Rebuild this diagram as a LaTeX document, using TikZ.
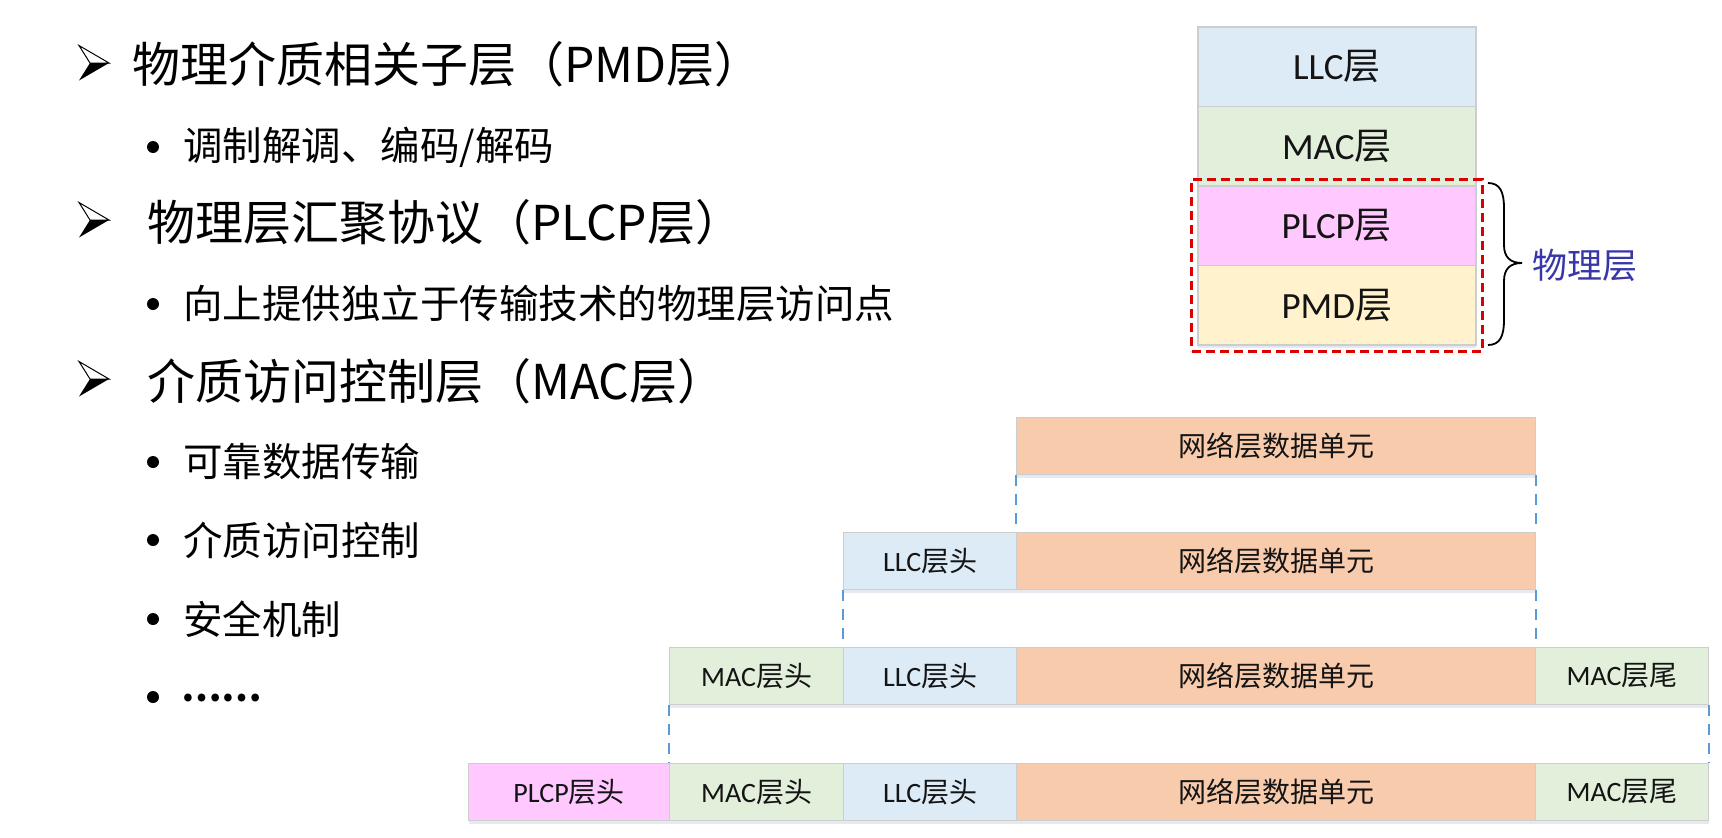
\documentclass[tikz,border=0pt]{standalone}
\usepackage{fontspec}
\setmainfont{Noto Sans CJK SC}
\newfontfamily\carl{Carlito}
\usetikzlibrary{shadows,fit}
\definecolor{llcc}{RGB}{221,235,247}
\definecolor{macc}{RGB}{226,239,218}
\definecolor{plcpc}{RGB}{255,200,255}
\definecolor{pmdc}{RGB}{255,242,204}
\definecolor{netc}{RGB}{248,203,173}
\definecolor{bgray}{RGB}{205,205,205}
\definecolor{redd}{RGB}{222,0,0}
\definecolor{bdashc}{RGB}{91,155,213}
\definecolor{phyblue}{RGB}{55,55,170}
\definecolor{shadowc}{RGB}{150,170,200}
\definecolor{txt}{RGB}{20,20,20}
\newcommand\fsz[1]{\fontsize{#1pt}{#1pt}\selectfont}
\newcommand\la[1]{{\carl #1}}
\begin{document}
\begin{tikzpicture}[x=1pt,y=-1pt,
  sh/.style={drop shadow={shadow xshift=0pt, shadow yshift=-3pt, opacity=0.25, fill=shadowc}},
  stk/.style={draw=bgray, line width=1.5pt, minimum width=278pt, minimum height=79.5pt,
    inner sep=0pt, anchor=north west, font=\fsz{37}, text=txt, sh},
  frm/.style={draw=bgray, line width=1.2pt, minimum height=57pt, inner sep=0pt,
    anchor=north west, font=\fsz{28}, text=txt, sh},
  head/.style={anchor=west, inner sep=0pt, font=\fsz{48}},
  sub/.style={anchor=west, inner sep=0pt, font=\fsz{39.5}},
  bdash/.style={draw=bdashc, line width=2pt, dash pattern=on 11pt off 8pt},
  harrow/.pic={
    \fill[black] (-4,0) -- (15,0) -- (-15,17.5) -- cycle;
    \draw[black, line width=1pt, line join=miter] (-4,0) -- (-15,-17.5) -- (15,0) -- cycle;
  },
  dotb/.pic={\fill[black] (0,0) circle (6pt);}
]
\useasboundingbox (0,0) rectangle (1722,838);

% ---- left text ----
\pic at (94,63) {harrow};
\node[head] (h1) at (132,64) {物理介质相关子层（PMD层）};
\pic at (153,147) {dotb};
\node[sub] (s1) at (183,147) {调制解调、编码/解码};
\pic at (94,220) {harrow};
\node[head] (h2) at (147,222) {物理层汇聚协议（PLCP层）};
\pic at (153,304) {dotb};
\node[sub] (s2) at (183,304) {向上提供独立于传输技术的物理层访问点};
\pic at (94,379) {harrow};
\node[head] (h3) at (147,381) {介质访问控制层（MAC层）};
\pic at (153,462) {dotb};
\node[sub] (s3) at (183,461) {可靠数据传输};
\pic at (153,540) {dotb};
\node[sub] (s4) at (183,540) {介质访问控制};
\pic at (153,619) {dotb};
\node[sub] (s5) at (183,619) {安全机制};
\pic at (153,697) {dotb};
\node[sub, anchor=base west, font=\fsz{36}] (s6) at (181,701) {\textbf{……}};

% ---- layer stack ----
\node[stk, fill=llcc] (llc) at (1197,26) {\la{LLC}层};
\node[stk, fill=macc] (mac) at (1197,105.5) {\la{MAC}层};
\node[stk, fill=plcpc] (plcp) at (1197,185) {\la{PLCP}层};
\node[stk, fill=pmdc] (pmd) at (1197,264.5) {\la{PMD}层};
\node[draw=redd, line width=3pt, dash pattern=on 9pt off 5pt, inner sep=5.5pt,
  fit=(plcp)(pmd)] (phy) {};
\coordinate (bt) at (1488,183);
\coordinate (bb) at (1488,345);
\node[anchor=west, inner sep=0pt, font=\fsz{35}, text=phyblue] (phylab) at (1532,265) {物理层};
\draw[black, line width=1.8pt]
  (bt) .. controls (1500,183) and (1504,192) .. (1504,208) -- (1504,245)
  .. controls (1504,257) and (1510,263) .. (1522,263)
  .. controls (1510,263) and (1504,269) .. (1504,281) -- (1504,320)
  .. controls (1504,336) and (1500,345) .. (bb);

% ---- frames ----
\node[frm, fill=netc, minimum width=519pt] (n1) at (1016,417) {网络层数据单元};

\node[frm, fill=llcc, minimum width=173pt] (l2) at (843,532) {\la{LLC}层头};
\node[frm, fill=netc, minimum width=519pt] (n2) at (1016,532) {网络层数据单元};

\node[frm, fill=macc, minimum width=174pt] (m3) at (669,647) {\la{MAC}层头};
\node[frm, fill=llcc, minimum width=173pt] (l3) at (843,647) {\la{LLC}层头};
\node[frm, fill=netc, minimum width=519pt] (n3) at (1016,647) {网络层数据单元};
\node[frm, fill=macc, minimum width=173pt] (t3) at (1535,647) {\la{MAC}层尾};

\node[frm, fill=plcpc, minimum width=201pt] (p4) at (468,763) {\la{PLCP}层头};
\node[frm, fill=macc, minimum width=174pt] (m4) at (669,763) {\la{MAC}层头};
\node[frm, fill=llcc, minimum width=173pt] (l4) at (843,763) {\la{LLC}层头};
\node[frm, fill=netc, minimum width=519pt] (n4) at (1016,763) {网络层数据单元};
\node[frm, fill=macc, minimum width=173pt] (t4) at (1535,763) {\la{MAC}层尾};

% ---- dashed guides ----
\draw[bdash] (n1.south west) -- (n2.north west);
\draw[bdash] (n1.south east) -- (n2.north east);
\draw[bdash] (l2.south west) -- (l3.north west);
\draw[bdash] (n2.south east) -- (n3.north east);
\draw[bdash] (m3.south west) -- (m4.north west);
\draw[bdash] (t3.south east) -- (t4.north east);
\end{tikzpicture}
\end{document}
